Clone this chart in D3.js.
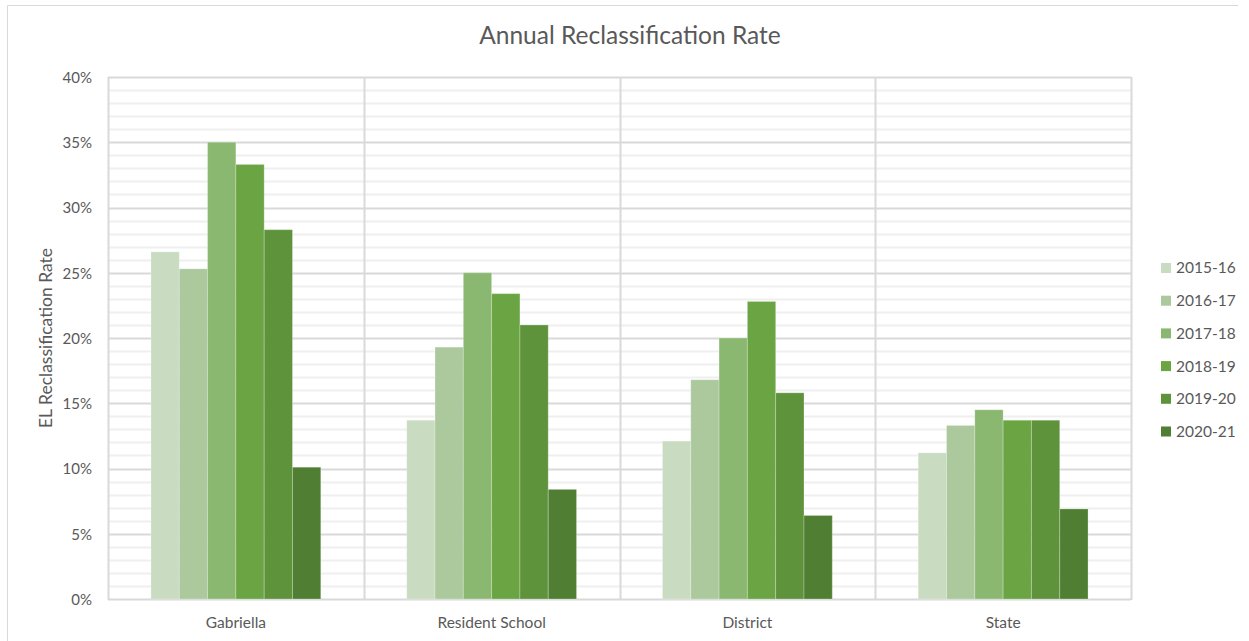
<!DOCTYPE html>
<html>
<head>
<meta charset="utf-8">
<script src="https://cdn.jsdelivr.net/npm/d3@7"></script>
<style>
  html, body { margin: 0; padding: 0; background: #fff; }
  svg { display: block; font-family: Lato, "Open Sans", sans-serif; }
</style>
</head>
<body>
<svg id="chart" width="1249" height="641"></svg>
<script>
// Reclassification rates (%) by school year
const categories = ["Gabriella", "Resident School", "District", "State"];
const years = ["2015-16", "2016-17", "2017-18", "2018-19", "2019-20", "2020-21"];
const rate2015 = [26.6, 13.7, 12.1, 11.2];
const rate2016 = [25.3, 19.3, 16.8, 13.3];
const rate2017 = [35.0, 25.0, 20.0, 14.5];
const rate2018 = [33.3, 23.4, 22.8, 13.7];
const rate2019 = [28.3, 21.0, 15.8, 13.7];
const rate2020 = [10.1, 8.4, 6.4, 6.9];
const yTicks = [0, 5, 10, 15, 20, 25, 30, 35, 40];
const colors = ["#c9dbc0", "#abc99d", "#8ab870", "#6aa443", "#5e933b", "#507f33"];

const seriesValues = [rate2015, rate2016, rate2017, rate2018, rate2019, rate2020];

const svg = d3.select("#chart");
const W = 1249, H = 641;
const plot = { left: 108, right: 1131, top: 77, bottom: 599 };
const textColor = "#595959";
const fontFamily = "Lato, 'Open Sans', sans-serif";

// outer chart frame (left and top edges)
svg.append("path")
  .attr("d", `M7.5,${H} L7.5,5.5 L1238,5.5`)
  .attr("fill", "none").attr("stroke", "#d9d9d9").attr("stroke-width", 1);

const x0 = d3.scaleBand().domain(categories).range([plot.left, plot.right]).padding(0);
const groupInset = x0.bandwidth() * 0.168;
const x1 = d3.scaleBand().domain(years)
  .range([groupInset, x0.bandwidth() - groupInset]).padding(0);
const y = d3.scaleLinear().domain([0, 40]).range([plot.bottom, plot.top]);

// minor gridlines every 1%
const g = svg.append("g");
g.selectAll("line.minor").data(d3.range(1, 40).filter(v => v % 5 !== 0))
  .join("line").attr("class", "minor")
  .attr("x1", plot.left).attr("x2", plot.right)
  .attr("y1", d => Math.round(y(d)) + 0.5).attr("y2", d => Math.round(y(d)) + 0.5)
  .attr("stroke", "#efefef").attr("stroke-width", 2);

// major gridlines every 5%
g.selectAll("line.major").data(yTicks)
  .join("line").attr("class", "major")
  .attr("x1", plot.left).attr("x2", plot.right)
  .attr("y1", d => Math.round(y(d)) + 0.5).attr("y2", d => Math.round(y(d)) + 0.5)
  .attr("stroke", "#d9d9d9").attr("stroke-width", 2);

// vertical category separators
const sepX = categories.map(c => x0(c)).concat([plot.right]);
g.selectAll("line.sep").data(sepX)
  .join("line").attr("class", "sep")
  .attr("x1", d => Math.round(d) + 0.5).attr("x2", d => Math.round(d) + 0.5)
  .attr("y1", plot.top).attr("y2", plot.bottom + 1)
  .attr("stroke", "#d9d9d9").attr("stroke-width", 2);

// bars
const barData = [];
categories.forEach((c, ci) => {
  years.forEach((yr, si) => {
    barData.push({ cat: c, year: yr, value: seriesValues[si][ci], color: colors[si] });
  });
});
svg.append("g").selectAll("rect").data(barData).join("rect")
  .attr("x", d => x0(d.cat) + x1(d.year))
  .attr("y", d => y(d.value))
  .attr("width", x1.bandwidth())
  .attr("height", d => y(0) - y(d.value))
  .attr("fill", d => d.color)
  .attr("stroke", "rgba(255,255,255,0.25)").attr("stroke-width", 1);

// y axis labels
const yAxis = d3.axisLeft(y).tickValues(yTicks).tickFormat(d => d + "%").tickSize(0).tickPadding(0);
const ya = svg.append("g").attr("transform", `translate(${plot.left - 16},0)`).call(yAxis);
ya.select(".domain").remove();
ya.selectAll("text").attr("fill", textColor).attr("font-size", 15)
  .attr("font-family", fontFamily).attr("dy", "0.35em");

// x axis labels
const xAxis = d3.axisBottom(x0).tickSize(0).tickPadding(0);
const xa = svg.append("g").attr("transform", `translate(0,${plot.bottom + 18})`).call(xAxis);
xa.select(".domain").remove();
xa.selectAll("text").attr("fill", textColor).attr("font-size", 15.5)
  .attr("font-family", fontFamily).attr("dy", "0.71em");

// title
svg.append("text")
  .attr("x", 630).attr("y", 44)
  .attr("text-anchor", "middle")
  .attr("font-size", 24.5).attr("fill", textColor)
  .text("Annual Reclassification Rate");

// y axis title
svg.append("text")
  .attr("transform", `translate(52,338) rotate(-90)`)
  .attr("text-anchor", "middle")
  .attr("font-size", 17.5).attr("fill", textColor)
  .text("EL Reclassification Rate");

// legend
const legend = svg.append("g").attr("transform", "translate(1161,268)");
const items = legend.selectAll("g").data(years).join("g")
  .attr("transform", (d, i) => `translate(0,${i * 32.7})`);
items.append("rect").attr("x", 0).attr("y", -5).attr("width", 10).attr("height", 10)
  .attr("fill", (d, i) => colors[i]);
items.append("text").attr("x", 15).attr("y", 0).attr("dy", "0.35em")
  .attr("font-size", 15.5).attr("fill", textColor).text(d => d);
</script>
</body>
</html>
